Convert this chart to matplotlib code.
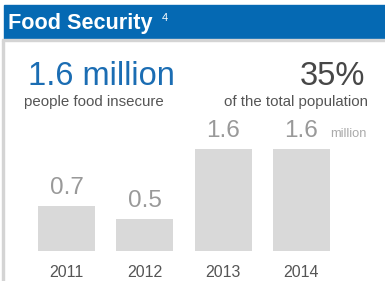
import matplotlib
matplotlib.use('Agg')
import matplotlib.pyplot as plt
from matplotlib.patches import Rectangle

plt.rcParams['font.family'] = ['Liberation Sans', 'DejaVu Sans']

years = ['2011', '2012', '2013', '2014']
values = [0.7, 0.5, 1.6, 1.6]
value_labels = ['0.7', '0.5', '1.6', '1.6']

W, H = 385, 281


def fx(x):
    return x / W


def fy(y):
    return 1 - y / H


fig = plt.figure(figsize=(W / 100, H / 100), dpi=100)

# header band and frame lines
fig.patches.append(Rectangle((fx(4), fy(39)), fx(381), 34 / H, transform=fig.transFigure,
                             color='#0569b3', zorder=0))
fig.patches.append(Rectangle((fx(2), fy(41)), fx(383), 2 / H, transform=fig.transFigure,
                             color='#d4d4d4', zorder=0))
fig.patches.append(Rectangle((fx(2), 0), fx(2), fy(41), transform=fig.transFigure,
                             color='#d4d4d4', zorder=0))

fig.text(fx(8), fy(28.5), 'Food Security', color='white', fontsize=15.6,
         fontweight='bold', va='baseline')
fig.text(fx(162), fy(21), '4', color='white', fontsize=8, va='baseline')

fig.text(fx(28), fy(85), '1.6 million', color='#1b6db3', fontsize=23.5, va='baseline')
fig.text(fx(24), fy(106), 'people food insecure', color='#555555', fontsize=10.8, va='baseline')
fig.text(fx(365), fy(85), '35%', color='#474747', fontsize=23.5, va='baseline', ha='right')
fig.text(fx(368), fy(106), 'of the total population', color='#555555', fontsize=10.8,
         va='baseline', ha='right')

# bars
ax = fig.add_axes([fx(27.5), fy(251), fx(313), 102 / H])
x = range(len(years))
ax.bar(x, values, width=0.73, color='#d9d9d9')
ax.set_xlim(-0.5, 3.5)
ax.set_ylim(0, 1.6)
for xi, v, lab in zip(x, values, value_labels):
    ax.annotate(lab, (xi, v), xytext=(0, 12), textcoords='offset pixels',
                ha='center', va='baseline', fontsize=17.5, color='#999999',
                annotation_clip=False)
fig.text(fx(330), fy(137), 'million', color='#aaaaaa', fontsize=9.3, va='baseline')

ax.set_xticks(list(x))
ax.set_xticklabels(years, fontsize=11.5, color='#555555')
ax.tick_params(axis='x', length=0, pad=10)
ax.set_yticks([])
for s in ax.spines.values():
    s.set_visible(False)
ax.patch.set_alpha(0)

fig.savefig('out.png', dpi=100)
